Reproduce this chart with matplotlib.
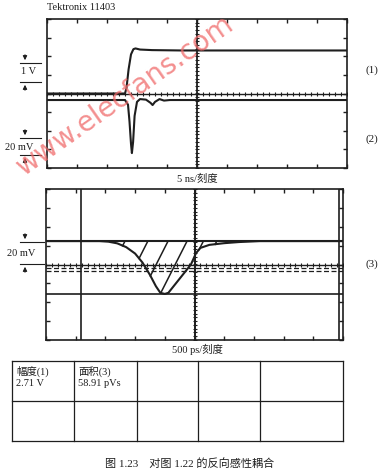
import numpy as np
import matplotlib
matplotlib.use('Agg')
import matplotlib.pyplot as plt

# trace (1): step, in divisions
t1 = [0, 2.6, 2.65, 2.72, 2.8, 2.88, 2.95, 3.1, 3.5, 4.5, 10]
v1 = [0, 0, 0.3, 1.3, 2.1, 2.38, 2.42, 2.36, 2.33, 2.31, 2.31]

# trace (2): coupled spike, in divisions
t2 = [0, 2.6, 2.7, 2.75, 2.8, 2.83, 2.87, 2.92, 3.0, 3.1, 3.3, 3.45, 3.52, 3.6, 3.75, 3.9, 4.1, 10]
v2 = [-0.35, -0.35, -0.6, -1.5, -2.7, -3.2, -2.6, -1.2, -0.45, -0.3, -0.33, -0.5, -0.62, -0.45, -0.3, -0.38, -0.35, -0.35]

# trace (3): zoomed spike, in divisions
t3 = [0, 1.8, 2.1, 2.4, 2.7, 3.0, 3.25, 3.5, 3.7, 3.85, 4.0, 4.12, 4.5, 4.88, 5.05, 5.2, 5.5, 6.0, 6.5, 7.2, 10]
v3 = [1.24, 1.24, 1.21, 1.12, 0.92, 0.58, 0.1, -0.55, -1.15, -1.5, -1.56, -1.5, -0.75, 0.0, 0.6, 0.88, 1.04, 1.13, 1.19, 1.24, 1.24]
base3 = 1.24
low3 = -1.56
dash3 = [-0.19, -0.34]
cursors3 = [1.18, 5.0, 9.87]
hatch_tops = [2.66, 3.43, 4.11, 4.75, 5.3, 5.75]

table_cells = [['幅度(1)\n2.71 V', '面积(3)\n58.91 pVs', '', '', ''],
               ['', '', '', '', '']]

W, H = 384, 476
ink = '#1e1e1e'
serif = ['Liberation Serif', 'Noto Sans CJK SC']
plt.rcParams['font.family'] = serif

fig = plt.figure(figsize=(W / 100, H / 100), dpi=100)

# overlay in pixel coords for labels and table, kept above the screens
ov = fig.add_axes([0, 0, 1, 1])
ov.set_xlim(0, W)
ov.set_ylim(H, 0)
ov.axis('off')
ov.set_zorder(5)


def px_axes(x0, y0, x1, y1):
    ax = fig.add_axes([x0 / W, 1 - y1 / H, (x1 - x0) / W, (y1 - y0) / H])
    ax.set_xlim(0, 10)
    ax.set_ylim(-4, 4)
    ax.set_xticks(range(11))
    ax.set_yticks(range(-4, 5))
    ax.tick_params(direction='in', length=3, width=1, color=ink,
                   top=True, right=True, labelbottom=False, labelleft=False)
    for s in ax.spines.values():
        s.set_linewidth(1.2)
        s.set_color(ink)
    # graticule centre lines with fine marks
    ax.axvline(5, color=ink, lw=1.3)
    ax.axhline(0, color=ink, lw=1.0)
    xs = np.arange(0, 10.01, 0.2)
    ax.plot(xs, np.zeros_like(xs), '|', color=ink, ms=3, mew=0.8)
    ys = np.arange(-4, 4.01, 0.2)
    ax.plot(np.full_like(ys, 5), ys, '_', color=ink, ms=3, mew=0.8)
    return ax


# top screen
a1 = px_axes(47, 19, 347, 168)
a1.plot(t1, v1, color=ink, lw=1.5)
a1.plot(t2, v2, color=ink, lw=1.5)

# bottom screen
a2 = px_axes(46, 189, 343, 340)
for c in cursors3:
    a2.axvline(c, color=ink, lw=1.2)
a2.axhline(low3, color=ink, lw=1.2)
for d in dash3:
    a2.axhline(d, color=ink, lw=0.9, ls=(0, (4, 2)))
a2.plot(t3, v3, color=ink, lw=1.5)
a2.axhline(base3, color=ink, lw=1.5)

# hatch lines, slope fixed, running from baseline down-left until the trace
tf = np.linspace(0, 10, 4001)
vf = np.interp(tf, t3, v3)
slope = 3.1
for xt in hatch_tops:
    line_v = base3 - slope * (xt - tf)
    ok = (tf <= xt) & (line_v <= vf)
    if not ok.any():
        continue
    xb = tf[ok][-1]
    a2.plot([xb, xt], [base3 - slope * (xt - xb), base3], color=ink, lw=1.1)

# watermark
ov.text(125, 95, 'www.elecfans.com', color='#f06a6a', alpha=0.75,
        fontsize=20, family='DejaVu Sans', rotation=35,
        ha='center', va='center', zorder=10)

# header and labels
ov.text(47, 8, 'Tektronix 11403', fontsize=7.5, ha='left', va='center', color=ink)
ov.text(197, 179, '5 ns/刻度', fontsize=7.5, ha='center', va='center', color=ink)
ov.text(197, 349, '500 ps/刻度', fontsize=7.5, ha='center', va='center', color=ink)
for lab, y in [('(1)', 70), ('(2)', 139), ('(3)', 264)]:
    ov.text(372, y, lab, fontsize=8, ha='center', va='center', color=ink)


def scale_marker(y_a, y_b, x_l, x_r, label, tx, ty):
    ov.plot([x_l, x_r], [y_a, y_a], color=ink, lw=0.8)
    ov.plot([x_l, x_r], [y_b, y_b], color=ink, lw=0.8)
    ov.annotate('', xy=(25, y_a), xytext=(25, y_a - 11),
                arrowprops=dict(arrowstyle='-|>', color=ink, lw=0.8, mutation_scale=6))
    ov.annotate('', xy=(25, y_b), xytext=(25, y_b + 11),
                arrowprops=dict(arrowstyle='-|>', color=ink, lw=0.8, mutation_scale=6))
    ov.text(tx, ty, label, fontsize=7.5, ha='center', va='center', color=ink)


scale_marker(63, 82, 20, 41, '1 V', 29, 72)
scale_marker(138, 155, 20, 41, '20 mV', 19, 147)
scale_marker(242, 264, 20, 44, '20 mV', 21, 254)

# readout table
col_x = [12, 74, 137, 198, 260, 343]
row_y = [361, 401, 441]
for x in col_x:
    ov.plot([x, x], [row_y[0], row_y[-1]], color=ink, lw=0.9)
for y in row_y:
    ov.plot([col_x[0], col_x[-1]], [y, y], color=ink, lw=0.9)
for r, row in enumerate(table_cells):
    for c, txt in enumerate(row):
        if txt:
            ov.text(col_x[c] + 4, row_y[r] + 5, txt, fontsize=7.5, ha='left', va='top',
                    color=ink, linespacing=1.3)

ov.text(190, 463, '图 1.23    对图 1.22 的反向感性耦合', fontsize=8,
        ha='center', va='center', color=ink)

fig.savefig('out.png', dpi=100, facecolor='white')
